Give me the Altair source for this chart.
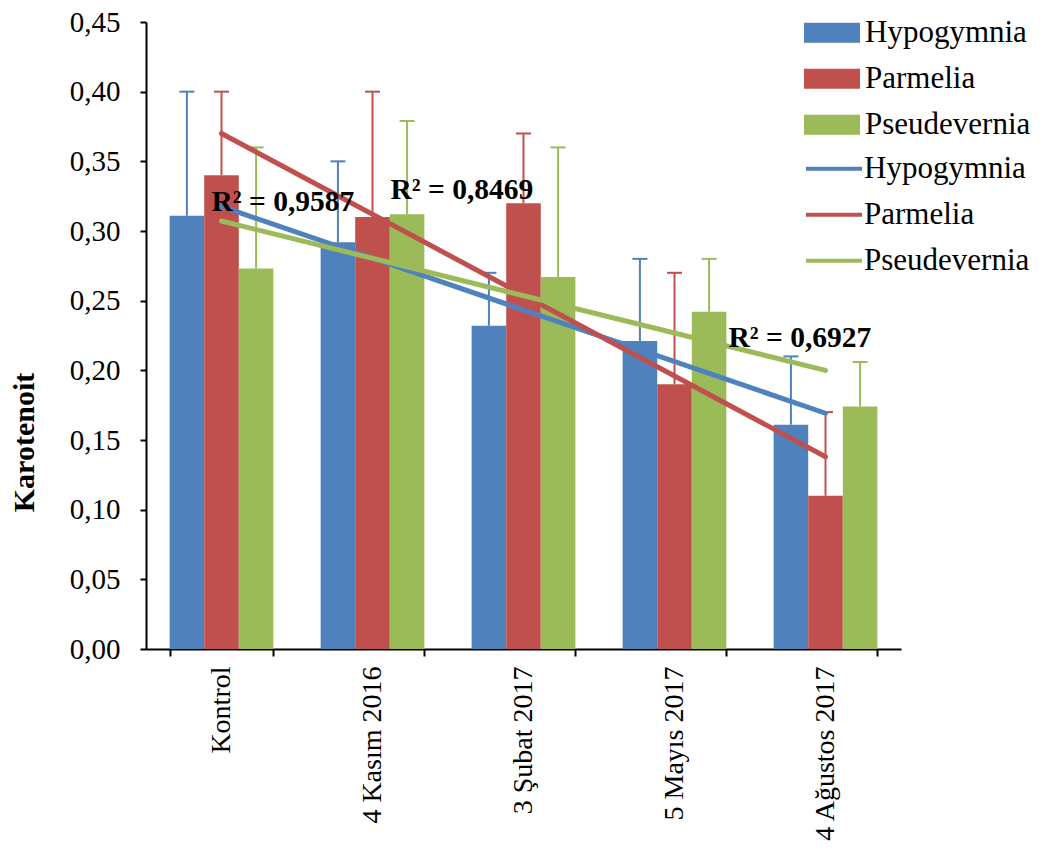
import altair as alt
import pandas as pd

categories = ["Kontrol", "4 Kasım 2016", "3 Şubat 2017", "5 Mayıs 2017", "4 Ağustos 2017"]
series = ["Hypogymnia", "Parmelia", "Pseudevernia"]
colors = ["#4F81BD", "#C0504D", "#9BBB59"]

hypogymnia = [0.311, 0.292, 0.232, 0.221, 0.161]
parmelia = [0.340, 0.310, 0.320, 0.190, 0.110]
pseudevernia = [0.273, 0.312, 0.267, 0.242, 0.174]

hypogymnia_err = [0.089, 0.058, 0.038, 0.059, 0.049]
parmelia_err = [0.060, 0.090, 0.050, 0.080, 0.060]
pseudevernia_err = [0.087, 0.067, 0.093, 0.038, 0.032]

r2_texts = ["R² = 0,9587", "R² = 0,8469", "R² = 0,6927"]
r2_cats = ["Kontrol", "4 Kasım 2016", "5 Mayıs 2017"]
r2_vals = [0.3147, 0.3228, 0.2167]

FONT = "Liberation Serif"

rows = []
for s, vals, errs in [("Hypogymnia", hypogymnia, hypogymnia_err),
                      ("Parmelia", parmelia, parmelia_err),
                      ("Pseudevernia", pseudevernia, pseudevernia_err)]:
    for i, (c, v, e) in enumerate(zip(categories, vals, errs)):
        rows.append({"cat": c, "idx": i + 1, "series": s, "value": v,
                     "top": v + e})
df = pd.DataFrame(rows)

# trend-line legend entries (trailing space keeps the two legends apart)
trend_names = [s + " " for s in series]

x_enc = alt.X("cat:N", sort=categories,
              scale=alt.Scale(paddingInner=0.313, paddingOuter=0.1565),
              axis=alt.Axis(title=None, labelAngle=270, labelAlign="right",
                            labelBaseline="middle", labelFont=FONT,
                            labelFontSize=28, labelColor="black", labelLimit=400,
                            labelPadding=10, tickSize=7, tickWidth=2,
                            tickColor="black", tickBand="extent",
                            domainColor="black", domainWidth=2, grid=False))
y_scale = alt.Scale(domain=[0, 0.45], nice=False)
y_axis = alt.Axis(title="Karotenoit",
                  values=[0, 0.05, 0.1, 0.15, 0.2, 0.25, 0.3, 0.35, 0.4, 0.45],
                  labelExpr="replace(format(datum.value, '.2f'), '.', ',')",
                  labelFont=FONT, labelFontSize=29, labelColor="black",
                  labelPadding=20, tickSize=6, tickWidth=2, tickColor="black",
                  domainColor="black", domainWidth=2, grid=False,
                  titleFont=FONT, titleFontSize=30, titleFontWeight="bold",
                  titleColor="black", titleAngle=270, titleX=-122, titleY=420,
                  titleAlign="center", titleBaseline="middle")
xoff = alt.XOffset("series:N", sort=series, scale=alt.Scale(paddingInner=0, paddingOuter=0))
color_enc = alt.Color("series:N", sort=series,
                      scale=alt.Scale(domain=series, range=colors),
                      legend=alt.Legend(title=None, orient="none", legendX=658, legendY=-12,
                                        symbolType="M-1,-0.357H1V0.357H-1Z",
                                        symbolSize=3136, symbolStrokeWidth=0,
                                        symbolOpacity=1, clipHeight=45.5,
                                        rowPadding=0, padding=0, labelOffset=5,
                                        labelLimit=400,
                                        labelFont=FONT, labelFontSize=31,
                                        labelColor="black"))

base = alt.Chart(df)

bars = base.mark_bar(opacity=1).encode(
    x=x_enc,
    xOffset=xoff,
    y=alt.Y("value:Q", scale=y_scale, axis=y_axis),
    color=color_enc,
)

err_rules = base.mark_rule(strokeWidth=2).encode(
    x=alt.X("cat:N", sort=categories),
    xOffset=xoff,
    y=alt.Y("value:Q"),
    y2="top:Q",
    color=alt.Color("series:N", sort=series, legend=None),
)

err_caps = base.mark_tick(size=15, thickness=2, opacity=1).encode(
    x=alt.X("cat:N", sort=categories),
    xOffset=xoff,
    y=alt.Y("top:Q"),
    color=alt.Color("series:N", sort=series, legend=None),
)

labels_expr = "[" + ",".join("'" + c + "'" for c in categories) + "][round(datum.idx) - 1]"

trend = base.transform_regression(
    "idx", "value", groupby=["series"], method="linear"
).transform_calculate(
    cat=labels_expr, trendser="datum.series + ' '"
).mark_line(strokeWidth=5, strokeCap="round").encode(
    x=alt.X("cat:N", sort=categories),
    y=alt.Y("value:Q"),
    stroke=alt.Stroke("trendser:N", sort=trend_names,
                      scale=alt.Scale(domain=trend_names, range=colors),
                      legend=alt.Legend(title=None, orient="none", legendX=658, legendY=124,
                                        symbolType="stroke", symbolSize=3136,
                                        symbolStrokeWidth=4, clipHeight=45.5,
                                        rowPadding=0, padding=0, labelOffset=0,
                                        labelLimit=400,
                                        labelFont=FONT, labelFontSize=31,
                                        labelColor="black")),
    detail="series:N",
)

r2_df = pd.DataFrame({"cat": r2_cats, "value": r2_vals, "text": r2_texts})
text_layers = []
for i, dx in enumerate([-10, 18, 54]):
    t = alt.Chart(r2_df.iloc[[i]]).mark_text(
        align="left", baseline="alphabetic", dx=dx, font=FONT, fontSize=29.5,
        fontWeight="bold", color="black"
    ).encode(x=alt.X("cat:N", sort=categories), y=alt.Y("value:Q"), text="text:N")
    text_layers.append(t)

chart = alt.layer(bars, err_rules, err_caps, trend, *text_layers).properties(
    width=755, height=627,
    autosize=alt.AutoSizeParams(type="none"),
    padding={"left": 138, "top": 14, "right": 130, "bottom": 194},
).configure_view(stroke=None)

chart.save("out.html", embed_options={"renderer": "svg", "actions": False})
